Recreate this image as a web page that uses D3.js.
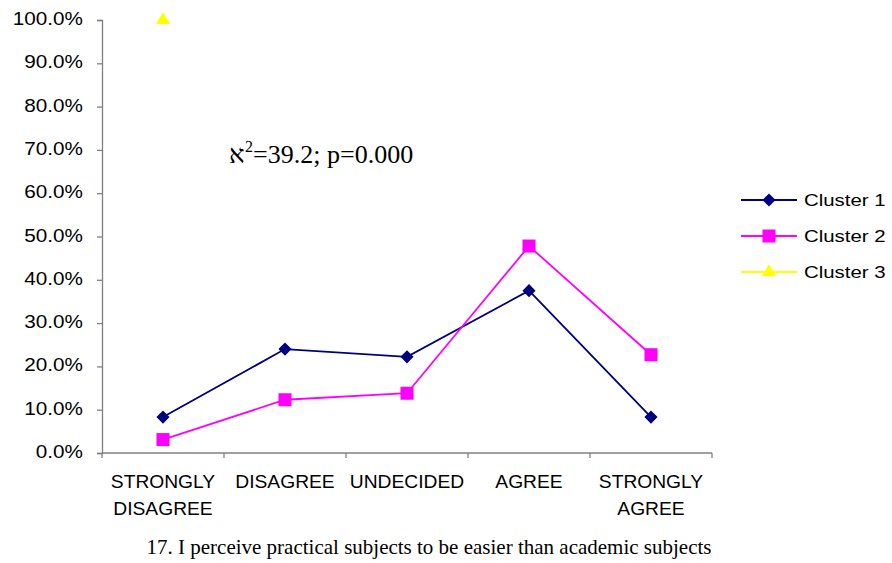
<!DOCTYPE html>
<html><head><meta charset="utf-8">
<script src="https://cdn.jsdelivr.net/npm/d3@7"></script>
<style>body{margin:0;background:#fff;} svg{display:block;}</style>
</head><body>
<svg id="c" width="892" height="563"></svg>
<script>
const categories = [["STRONGLY","DISAGREE"],["DISAGREE"],["UNDECIDED"],["AGREE"],["STRONGLY","AGREE"]];
const cluster1 = [8.3, 24.0, 22.2, 37.5, 8.3];
const cluster2 = [3.1, 12.3, 13.8, 47.8, 22.7];
const cluster3 = [100, null, null, null, null];
const yTicks = [0,10,20,30,40,50,60,70,80,90,100];
const seriesNames = ["Cluster 1","Cluster 2","Cluster 3"];
const colors = ["#000080","#ff00ff","#ffff00"];
const caption = "17. I perceive practical subjects to be easier than academic subjects";

(function(){
const svg = d3.select("#c");
const pLeft=102, pRight=712, pTop=20, pBottom=453;
const x = d3.scaleBand().domain(d3.range(categories.length)).range([pLeft,pRight]);
const y = d3.scaleLinear().domain([0,100]).range([pBottom,pTop]);
const axisColor="#808080";
const sans="Liberation Sans, Arial, sans-serif";
const serif="Liberation Serif, Times New Roman, serif";

// y axis
const ya = svg.append("g").attr("transform",`translate(${pLeft},0)`)
  .call(d3.axisLeft(y).tickValues(yTicks).tickSize(5).tickFormat(d=>d.toFixed(1)+"%"));
ya.select(".domain").attr("stroke",axisColor).attr("stroke-width",1.3);
ya.selectAll(".tick line").attr("stroke",axisColor).attr("stroke-width",1.3);
ya.selectAll(".tick text").attr("font-family",sans).attr("font-size",18).attr("fill","#000")
  .attr("x",0).attr("y",0).attr("dy",4.5).attr("transform","translate(-19,0) scale(1.15,1)");

// x axis
const xa = svg.append("g").attr("transform",`translate(0,${pBottom})`);
xa.append("line").attr("x1",pLeft).attr("x2",pRight).attr("y1",0).attr("y2",0).attr("stroke",axisColor).attr("stroke-width",1.3);
const bounds = d3.range(categories.length+1).map(i=> i<categories.length? x(i): x(categories.length-1)+x.bandwidth());
xa.selectAll("line.t").data(bounds).enter().append("line").attr("class","t")
  .attr("x1",d=>d).attr("x2",d=>d).attr("y1",0).attr("y2",5).attr("stroke",axisColor).attr("stroke-width",1.3);
categories.forEach((lines,i)=>{
  const t = xa.append("text").attr("text-anchor","middle")
    .attr("font-family",sans).attr("font-size",17.5).attr("fill","#000")
    .attr("transform",`translate(${x(i)+x.bandwidth()/2},0) scale(1.1,1)`);
  lines.forEach((l,j)=> t.append("tspan").attr("x",0).attr("y",35+j*27).text(l));
});

const cx = i => x(i)+x.bandwidth()/2;
const data = [cluster1,cluster2,cluster3];
const line = d3.line().defined(d=>d!=null).x((d,i)=>cx(i)).y(d=>y(d));
data.forEach((s,k)=>{
  svg.append("path").datum(s).attr("d",line).attr("fill","none").attr("stroke",colors[k]).attr("stroke-width",1.8);
});
function marker(g,k,px,py){
  if(k===0) g.append("path").attr("d",d3.symbol().type(d3.symbolDiamond2).size(110)()).attr("transform",`translate(${px},${py})`).attr("fill",colors[0]);
  else if(k===1) g.append("rect").attr("x",px-6.5).attr("y",py-6.5).attr("width",13).attr("height",13).attr("fill",colors[1]);
  else g.append("path").attr("d",d3.symbol().type(d3.symbolTriangle).size(85)()).attr("transform",`translate(${px},${py})`).attr("fill",colors[2]);
}
data.forEach((s,k)=>{
  s.forEach((v,i)=>{ if(v!=null) marker(svg,k,cx(i),y(v)); });
});

// legend
seriesNames.forEach((n,k)=>{
  const ly = 200 + k*36;
  svg.append("line").attr("x1",741).attr("x2",797).attr("y1",ly).attr("y2",ly).attr("stroke",colors[k]).attr("stroke-width",1.8);
  marker(svg,k,769,ly);
  svg.append("text").attr("x",0).attr("y",0).attr("dy",6).attr("font-family",sans).attr("font-size",17)
    .attr("transform",`translate(804,${ly}) scale(1.2,1)`).text(n);
});

// annotation (aleph drawn separately to keep left-to-right order)
const aleph = svg.append("text").attr("x",229).attr("y",163).attr("font-family",serif).attr("font-size",26).attr("fill","#000").text("\u05D0");
const aw = aleph.node().getComputedTextLength();
const sup = svg.append("text").attr("x",229+aw+0.5).attr("y",152).attr("font-family",serif).attr("font-size",16).attr("fill","#000").text("2");
const sw = sup.node().getComputedTextLength();
svg.append("text").attr("x",229+aw+0.5+sw).attr("y",163).attr("font-family",serif).attr("font-size",26).attr("fill","#000").text("=39.2; p=0.000");

svg.append("text").attr("x",429).attr("y",554).attr("text-anchor","middle").attr("font-family",serif).attr("font-size",21).text(caption);
})();
</script>
</body></html>
